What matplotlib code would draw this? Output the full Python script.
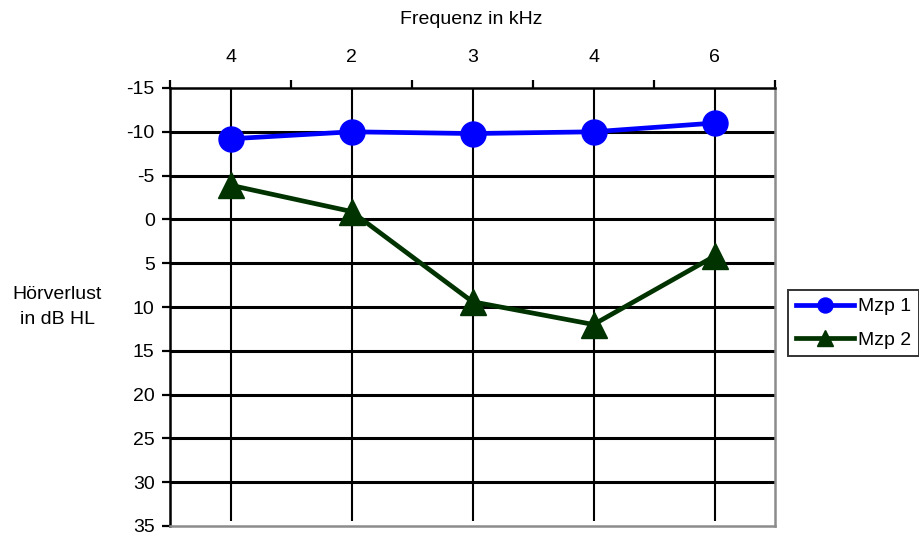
import matplotlib
matplotlib.use("Agg")
import matplotlib.pyplot as plt
import numpy as np

plt.rcParams['font.family'] = ['Liberation Sans', 'DejaVu Sans']

freq_labels = ["4", "2", "3", "4", "6"]
mzp1 = [-9.2, -10.0, -9.8, -10.0, -11.0]
mzp2 = [-3.9, -0.9, 9.4, 12.0, 4.2]
y_ticks = [-15, -10, -5, 0, 5, 10, 15, 20, 25, 30, 35]

FS = 14

fig = plt.figure(figsize=(9.19, 5.36), dpi=100)
ax = fig.add_axes([170/919, 1 - 526/536, (775 - 170)/919, (526 - 88)/536])

n = len(freq_labels)
x = np.arange(n) + 0.5

ax.set_xlim(0, n)
ax.set_ylim(35, -15)

# horizontal grid
for yv in y_ticks[1:-1]:
    ax.axhline(yv, color="black", lw=2.2, zorder=1)
# vertical lines at each frequency
ax.vlines(x, -15, 34.4, color="black", lw=1.5, zorder=1)

ax.plot(x, mzp1, color="#0000ff", lw=3.4, marker="o", markersize=18,
        label="Mzp 1", zorder=3)
ax.plot(x, mzp2, color="#003300", lw=3.4, marker="^", markersize=19,
        label="Mzp 2", zorder=3)

# spines
for s in ("top", "left"):
    ax.spines[s].set_color("black")
    ax.spines[s].set_linewidth(1.8)
for s in ("bottom", "right"):
    ax.spines[s].set_color("#8c8c8c")
    ax.spines[s].set_linewidth(1.8)

# x axis on top: boundary ticks, centred labels
ax.xaxis.set_ticks_position("top")
ax.xaxis.set_label_position("top")
ax.set_xticks(np.arange(n + 1))
ax.set_xticklabels([])
ax.set_xticks(x, minor=True)
ax.set_xticklabels(freq_labels, minor=True, fontsize=FS)
ax.tick_params(axis="x", which="major", direction="out", length=6, width=1.6, color="black")
ax.tick_params(axis="x", which="minor", length=0, pad=16)

ax.set_yticks(y_ticks)
ax.set_yticklabels([str(v) for v in y_ticks], fontsize=FS)
ax.tick_params(axis="y", direction="out", length=6, width=1.6, color="black", pad=5)

fig.text(471/919, 1 - 20/536, "Frequenz in kHz", ha="center", va="center", fontsize=FS)
fig.text(57/919, 1 - 307/536, "Hörverlust\nin dB HL", ha="center", va="center",
         fontsize=FS, linespacing=1.55)

leg = ax.legend(loc="upper left", bbox_to_anchor=(788/919, 1 - 290/536),
                bbox_transform=fig.transFigure, fontsize=FS, frameon=True,
                fancybox=False, handlelength=3.0, markerscale=0.6,
                borderaxespad=0, handletextpad=0.2, borderpad=0.4,
                labelspacing=0.8)
leg.get_frame().set_edgecolor("black")
leg.get_frame().set_linewidth(1.4)

fig.savefig("out.png", dpi=100)
